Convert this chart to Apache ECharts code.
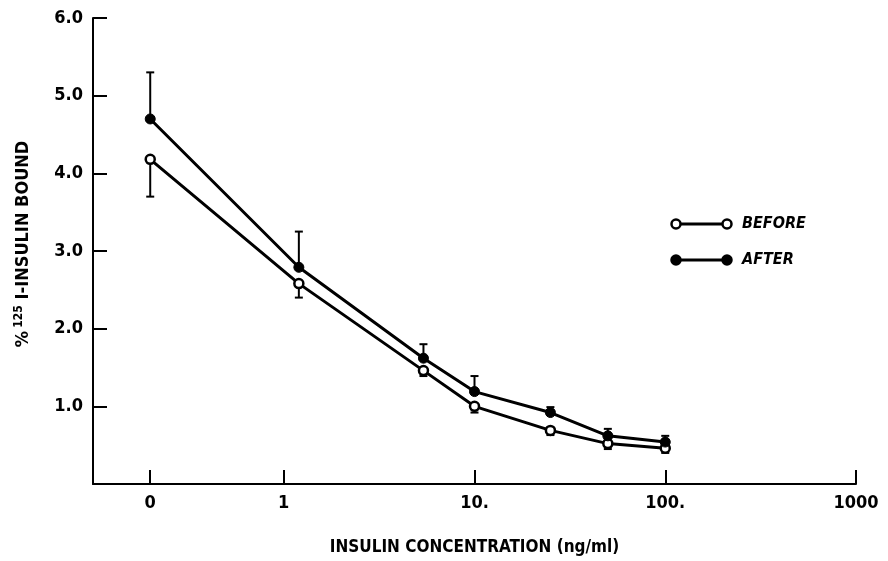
<!DOCTYPE html>
<html>
<head>
<meta charset="utf-8">
<script src="https://cdn.jsdelivr.net/npm/echarts@6/dist/echarts.min.js"></script>
<style>
  html, body { margin: 0; padding: 0; background: #fff; }
  #chart { width: 888px; height: 561px; }
</style>
</head>
<body>
<div id="chart"></div>
<script>
// Insulin concentration (ng/ml) for each measurement
const concentrations = [0, 1.2, 5.4, 10, 25, 50, 100];
// % 125I-insulin bound, before and after, with their error bars
const beforeBound = [4.18, 2.58, 1.46, 1.00, 0.69, 0.52, 0.46];
const beforeErr   = [0.48, 0.18, 0.07, 0.08, 0.06, 0.07, 0.06];
const afterBound  = [4.70, 2.79, 1.62, 1.19, 0.92, 0.62, 0.54];
const afterErr    = [0.60, 0.46, 0.18, 0.20, 0.07, 0.09, 0.08];
// Axis ticks
const xTickConc   = [0, 1, 10, 100, 1000];
const xTickLabels = ['0', '1', '10.', '100.', '1000'];
const yTicks      = [1, 2, 3, 4, 5, 6];

// Log10 scale, with the zero dose placed just left of the first decade
const ZERO_DECADE = -0.7;
function decade(c) { return c === 0 ? ZERO_DECADE : Math.log10(c); }

const FONT = '"Liberation Sans Narrow", "DejaVu Sans Condensed", "Liberation Sans", sans-serif';

const xTickPos = xTickConc.map(decade);
const labelFor = {};
xTickPos.forEach((p, i) => { labelFor[p.toFixed(3)] = xTickLabels[i]; });

const beforeLine = concentrations.map((c, i) => [decade(c), beforeBound[i]]);
const afterLine  = concentrations.map((c, i) => [decade(c), afterBound[i]]);
// error bars: before hangs down, after rises up
const beforeBars = concentrations.map((c, i) => [decade(c), beforeBound[i], beforeBound[i] - beforeErr[i]]);
const afterBars  = concentrations.map((c, i) => [decade(c), afterBound[i], afterBound[i] + afterErr[i]]);

function errorBar(params, api) {
  const x = api.value(0);
  const p0 = api.coord([x, api.value(1)]);
  const p1 = api.coord([x, api.value(2)]);
  const half = 4;
  const style = { stroke: '#000', lineWidth: 2 };
  return {
    type: 'group',
    children: [
      { type: 'line', shape: { x1: p0[0], y1: p0[1], x2: p1[0], y2: p1[1] }, style },
      { type: 'line', shape: { x1: p1[0] - half, y1: p1[1], x2: p1[0] + half, y2: p1[1] }, style }
    ]
  };
}

const chart = echarts.init(document.getElementById('chart'));

// legend drawn as line + end markers like the plotted series
function legendRow(y, filled, text) {
  return [
    { type: 'line', shape: { x1: 676, y1: y, x2: 727, y2: y }, style: { stroke: '#000', lineWidth: 3 } },
    { type: 'circle', shape: { cx: 676, cy: y, r: 4.5 }, style: { fill: filled ? '#000' : '#fff', stroke: '#000', lineWidth: 2.5 } },
    { type: 'circle', shape: { cx: 727, cy: y, r: 4.5 }, style: { fill: filled ? '#000' : '#fff', stroke: '#000', lineWidth: 2.5 } },
    { type: 'text', x: 742, y: y, style: { text: text, fill: '#000', font: 'italic bold 16px ' + FONT, textVerticalAlign: 'middle' } }
  ];
}

chart.setOption({
  backgroundColor: '#fff',
  animation: false,
  grid: { left: 93, right: 32, top: 18, bottom: 68, containLabel: false },
  xAxis: {
    type: 'value',
    min: -1,
    max: 3,
    splitLine: { show: false },
    axisLine: { show: true, onZero: false, lineStyle: { color: '#000', width: 2 } },
    axisTick: { show: true, inside: true, length: 14, lineStyle: { color: '#000', width: 2 }, customValues: xTickPos },
    axisLabel: {
      customValues: xTickPos,
      margin: 10,
      color: '#000',
      fontFamily: FONT,
      fontWeight: 'bold',
      fontSize: 18,
      formatter: v => labelFor[Number(v).toFixed(3)] ?? ''
    },
    name: 'INSULIN CONCENTRATION (ng/ml)',
    nameLocation: 'middle',
    nameGap: 55,
    nameTextStyle: { color: '#000', fontFamily: FONT, fontWeight: 'bold', fontSize: 17 }
  },
  yAxis: {
    type: 'value',
    min: 0,
    max: 6,
    interval: 1,
    splitLine: { show: false },
    axisLine: { show: true, onZero: false, lineStyle: { color: '#000', width: 2 } },
    axisTick: { show: true, inside: true, length: 14, lineStyle: { color: '#000', width: 2 }, customValues: yTicks },
    axisLabel: {
      customValues: yTicks,
      margin: 10,
      color: '#000',
      fontFamily: FONT,
      fontWeight: 'bold',
      fontSize: 18,
      formatter: v => Number(v).toFixed(1)
    },
    name: '{p|%} {s|125}{p| I-INSULIN BOUND}',
    nameLocation: 'middle',
    nameRotate: 90,
    nameGap: 60,
    nameTextStyle: {
      color: '#000',
      padding: [0, 0, 0, 14],
      rich: {
        p: { fontFamily: FONT, fontWeight: 'bold', fontSize: 18, color: '#000' },
        s: { fontFamily: FONT, fontWeight: 'bold', fontSize: 12, color: '#000', verticalAlign: 'top', padding: [0, 0, 8, 0] }
      }
    }
  },
  series: [
    {
      name: 'BEFORE error', type: 'custom', data: beforeBars, renderItem: errorBar,
      encode: { x: 0, y: [1, 2] }, z: 1, silent: true
    },
    {
      name: 'AFTER error', type: 'custom', data: afterBars, renderItem: errorBar,
      encode: { x: 0, y: [1, 2] }, z: 1, silent: true
    },
    {
      name: 'BEFORE', type: 'line', data: beforeLine, z: 3,
      lineStyle: { color: '#000', width: 3 },
      symbol: 'circle', symbolSize: 9,
      itemStyle: { color: '#fff', borderColor: '#000', borderWidth: 2.5 }
    },
    {
      name: 'AFTER', type: 'line', data: afterLine, z: 3,
      lineStyle: { color: '#000', width: 3 },
      symbol: 'circle', symbolSize: 10,
      itemStyle: { color: '#000', borderColor: '#000', borderWidth: 1 }
    }
  ],
  graphic: [
    ...legendRow(224, false, 'BEFORE'),
    ...legendRow(260, true, 'AFTER')
  ]
});
</script>
</body>
</html>
